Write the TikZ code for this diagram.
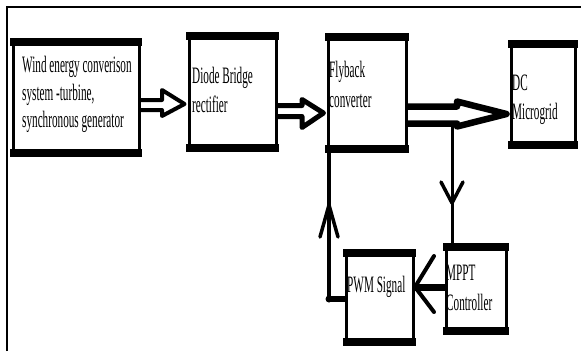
\documentclass[tikz,border=0pt]{standalone}
\usepackage{fontspec}
\setmainfont{Liberation Serif}
\usetikzlibrary{backgrounds}
\newcommand{\stretchtxt}[1]{\scalebox{1}[2.1]{#1}}
\newcommand{\boxbars}[1]{%
  \fill ([shift={(-1.5pt,1.5pt)}]#1.north west) rectangle ([shift={(1.5pt,-6.5pt)}]#1.north east);
  \fill ([shift={(-1.5pt,-1.5pt)}]#1.south west) rectangle ([shift={(1.5pt,6.5pt)}]#1.south east);}
\begin{document}
\begin{tikzpicture}[x=1pt,y=-1pt,
  blk/.style={draw, line width=3pt, inner sep=0pt, anchor=north west, fill=white},
  txt/.style={anchor=base west, inner sep=0pt, font=\fontsize{11.2}{13}\selectfont},
  barrow/.style={draw, fill=white, line join=round},
  fb/.style={line width=3.5pt},
  vhead/.style={line width=3.5pt, line cap=round, line join=round}]
\useasboundingbox (0,0) rectangle (581,351);
% outer frame
\draw[line width=2pt] (6.5,351) -- (6.5,7) -- (581,7);
% boxes
\node[blk, minimum width=126pt, minimum height=113pt] (w) at (11.5,39.5) {};
\node[blk, minimum width=87pt,  minimum height=114pt] (d) at (187.5,33.5) {};
\node[blk, minimum width=78pt,  minimum height=114pt] (f) at (326.5,34.5) {};
\node[blk, minimum width=64pt,  minimum height=103pt] (g) at (509.5,41.5) {};
\node[blk, minimum width=67pt,  minimum height=91pt]  (p) at (344.5,250.5) {};
\node[blk, minimum width=60pt,  minimum height=86pt]  (m) at (444.5,244.5) {};
\boxbars{w}\boxbars{d}\boxbars{f}\boxbars{g}\boxbars{p}\boxbars{m}
% texts
\node[txt] (w1) at (22,72)  {\stretchtxt{Wind energy converison}};
\node[txt] (w2) at (22,100) {\stretchtxt{system -turbine,}};
\node[txt] (w3) at (22,127) {\stretchtxt{synchronous generator}};
\node[txt] (d1) at (192,83)  {\stretchtxt{Diode Bridge}};
\node[txt] (d2) at (192,112) {\stretchtxt{rectifier}};
\node[txt] (f1) at (329,77)  {\stretchtxt{Flyback}};
\node[txt] (f2) at (329,107) {\stretchtxt{converter}};
\node[txt] (g1) at (512,90)  {\stretchtxt{DC}};
\node[txt] (g2) at (512,119) {\stretchtxt{Microgrid}};
\node[txt] (p1) at (347,292) {\stretchtxt{PWM Signal}};
\node[txt] (m1) at (446,280) {\stretchtxt{MPPT}};
\node[txt] (m2) at (446,310) {\stretchtxt{Controller}};
\begin{pgfonlayer}{background}
% block arrows
\path[barrow, line width=4pt] (w.east |- 0,100) -- (162,100) -- (162,90)
  -- ([xshift=-3pt]d.west |- 0,104) -- (162,116) -- (162,110) -- (w.east |- 0,110);
\path[barrow, line width=5pt] (d.east |- 0,105.5) -- (302,105.5) -- (302,99.5)
  -- ([xshift=-3pt]f.west |- 0,113) -- (302,127.5) -- (302,116.5) -- (d.east |- 0,116.5);
\path[barrow, line width=6.5pt] (f.east |- 0,106.5) -- (457,106.5) -- (457,101.5)
  -- ([xshift=-3pt]g.west |- 0,114) -- (457,126.5) -- (457,123.5) -- (f.east |- 0,123.5);
% feedback to MPPT
\coordinate (tap) at (452,127);
\draw[line width=3pt] (tap) -- (tap |- m.north);
\draw[vhead] (441,182) -- (452,203) -- (463,182);
% MPPT to PWM
\draw[line width=7pt] (m.west |- 0,287) -- (p.east |- 0,287);
\draw[line width=4pt, line cap=round, line join=round] (434,256) -- (415,287) -- (434,312);
% PWM to flyback
\coordinate (elbow) at (329,299);
\draw[fb] (elbow |- f.south) -- (elbow);
\draw[line width=6pt] (elbow) -- (p.west |- elbow);
\fill (elbow) circle (3.5pt);
\draw[vhead] (320,237) -- (329,205) -- (338,237);
\end{pgfonlayer}
\end{tikzpicture}
\end{document}
